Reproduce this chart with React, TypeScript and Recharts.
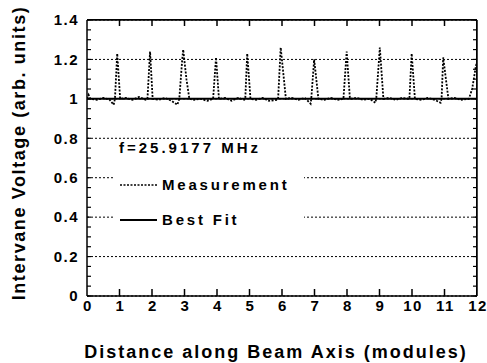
import React from "react";
import {
  LineChart,
  Line,
  XAxis,
  YAxis,
  CartesianGrid,
  Legend,
  Label,
} from "recharts";

// measurement: dotted trace, peaks near each module boundary
const measX = [
  0, 0.05, 0.1, 0.3, 0.5, 0.7, 0.82, 0.86, 0.93, 1.02, 1.2, 1.4, 1.6, 1.8, 1.86, 1.94, 2.02,
  2.2, 2.4, 2.6, 2.78, 2.84, 2.93, 2.96, 3.06, 3.15, 3.3, 3.5, 3.7, 3.88, 3.97, 4.06,
  4.25, 4.45, 4.65, 4.84, 4.87, 4.93, 5.03, 5.2, 5.4, 5.6, 5.85, 5.88, 5.96, 6.12,
  6.3, 6.5, 6.7, 6.88, 6.9, 6.99, 7.12, 7.3, 7.5, 7.7, 7.89, 7.99, 8.09,
  8.3, 8.5, 8.7, 8.87, 8.9, 9.01, 9.12, 9.3, 9.5, 9.7, 9.92, 9.99, 10.09,
  10.3, 10.5, 10.7, 10.88, 10.91, 10.96, 11.12, 11.3, 11.5, 11.75, 11.85, 11.97, 12,
];
const measY = [
  1.0, 1.02, 1.0, 0.995, 1.005, 0.995, 0.97, 1.0, 1.23, 1.0, 1.005, 0.995, 1.01, 0.995, 1.0, 1.24, 1.0,
  0.995, 1.005, 0.99, 0.97, 1.0, 1.2, 1.25, 1.1, 1.0, 0.995, 1.0, 0.99, 1.0, 1.21, 1.0,
  1.005, 0.99, 1.005, 0.995, 1.0, 1.23, 1.0, 0.995, 1.005, 0.99, 0.995, 1.0, 1.26, 1.0,
  1.005, 0.995, 1.005, 0.975, 1.0, 1.2, 1.0, 0.995, 1.005, 0.995, 1.0, 1.24, 1.0,
  1.005, 0.995, 1.0, 0.98, 1.0, 1.26, 1.0, 1.005, 0.995, 1.005, 1.0, 1.23, 1.0,
  0.995, 1.005, 0.995, 0.98, 1.0, 1.21, 1.0, 1.005, 0.995, 1.0, 1.05, 1.17, 1.18,
];

// best fit: flat line
const fitX = [0, 12];
const fitY = [1.0, 1.0];

const seriesNames = ["Measurement", "Best Fit"];
const xTicks = [0, 1, 2, 3, 4, 5, 6, 7, 8, 9, 10, 11, 12];
const yTicks = [0, 0.2, 0.4, 0.6, 0.8, 1, 1.2, 1.4];
const yMinorTicks = [
  0, 0.05, 0.1, 0.15, 0.2, 0.25, 0.3, 0.35, 0.4, 0.45, 0.5, 0.55, 0.6, 0.65, 0.7,
  0.75, 0.8, 0.85, 0.9, 0.95, 1, 1.05, 1.1, 1.15, 1.2, 1.25, 1.3, 1.35, 1.4,
];
const freqLabel = "f=25.9177 MHz";

const measData = measX.map((x, i) => ({ x, y: measY[i] }));
const fitData = fitX.map((x, i) => ({ x, y: fitY[i] }));

const FONT = "'Liberation Sans', Arial, sans-serif";
const CHART_W = 487;
const CHART_H = 363;
const MARGIN = { top: 20, right: 10, bottom: 0, left: 0 };
const Y_AXIS_W = 87;
const X_AXIS_H = 67;
const PLOT_TOP = MARGIN.top;
const PLOT_RIGHT = CHART_W - MARGIN.right;

// bottom tick: inward marks top and bottom, label, right frame at the last tick
const XTick = (props: any) => {
  const { x, y, payload } = props;
  const v = payload.value;
  const last = v === xTicks[xTicks.length - 1];
  const inner = v > xTicks[0] && !last;
  return (
    <g>
      {inner && <line x1={x} x2={x} y1={y} y2={y - 7} stroke="#000" strokeWidth={1.5} />}
      {inner && <line x1={x} x2={x} y1={PLOT_TOP} y2={PLOT_TOP + 6} stroke="#000" strokeWidth={1.5} />}
      {last && <line x1={x} x2={x} y1={y} y2={PLOT_TOP} stroke="#000" strokeWidth={1.5} />}
      <text x={x + 1} y={y + 14.5} textAnchor="middle" fontFamily={FONT} fontSize={15} fontWeight="bold"
        letterSpacing={1.5} fill="#000">
        {v}
      </text>
    </g>
  );
};

// left tick: inward marks every 0.05 on both sides, labels at 0.2 steps, top frame at the last tick
const YTick = (props: any) => {
  const { x, y, payload } = props;
  const v = payload.value;
  const major = yTicks.some((t) => Math.abs(t - v) < 1e-9);
  const last = v === yMinorTicks[yMinorTicks.length - 1];
  return (
    <g>
      <line x1={x} x2={x + 4} y1={y} y2={y} stroke="#000" strokeWidth={1.2} />
      <line x1={PLOT_RIGHT} x2={PLOT_RIGHT - 4} y1={y} y2={y} stroke="#000" strokeWidth={1.2} />
      {last && <line x1={x} x2={PLOT_RIGHT} y1={y} y2={y} stroke="#000" strokeWidth={1.5} />}
      {major && (
        <text x={x - 8} y={y + 5.3} textAnchor="end" fontFamily={FONT} fontSize={15} fontWeight="bold"
          letterSpacing={1.5} fill="#000">
          {v}
        </text>
      )}
    </g>
  );
};

const LegendBox = (props: any) => {
  const items = props.payload || [];
  return (
    <div style={{ position: "relative", width: 191, height: 88, background: "#fff", fontFamily: FONT }}>
      <div style={{ position: "absolute", left: 6, top: -1, fontSize: 15, fontWeight: "bold", letterSpacing: 3, lineHeight: "18px" }}>
        {freqLabel}
      </div>
      {items.map((it: any, i: number) => (
        <div key={i} style={{ position: "absolute", left: 7, top: 36 + i * 35, height: 18, display: "flex", alignItems: "center" }}>
          <svg width={37} height={18}>
            <line
              x1={0}
              x2={37}
              y1={9}
              y2={9}
              stroke="#000"
              strokeWidth={it.payload?.strokeDasharray ? 1.6 : 2}
              strokeDasharray={it.payload?.strokeDasharray}
            />
          </svg>
          <span style={{ marginLeft: 5, fontSize: 15, fontWeight: "bold", letterSpacing: 2.8, lineHeight: "18px" }}>
            {it.value}
          </span>
        </div>
      ))}
    </div>
  );
};

export default function App() {
  return (
    <div style={{ position: "absolute", left: 0, top: 0, width: CHART_W, height: CHART_H }}>
      <LineChart width={CHART_W} height={CHART_H} margin={MARGIN} style={{ fontFamily: FONT }}>
        <CartesianGrid vertical={false} yAxisId="g" stroke="#000" strokeDasharray="2 2" strokeWidth={1} />
        {/* hidden axis that only feeds the grid */}
        <YAxis yAxisId="g" hide type="number" domain={[0, 1.4]} ticks={yTicks} interval={0} allowDataOverflow />
        <XAxis dataKey="x" type="number" domain={[0, 12]} ticks={xTicks} interval={0} height={X_AXIS_H} tickLine={false}
          tickSize={0} tickMargin={0} tick={<XTick />} stroke="#000" strokeWidth={1.5} allowDataOverflow>
          <Label
            content={() => (
              <text x={276} y={358} textAnchor="middle" fontFamily={FONT} fontSize={18} fontWeight="bold" letterSpacing={2} fill="#000">
                Distance along Beam Axis (modules)
              </text>
            )}
          />
        </XAxis>
        <YAxis type="number" domain={[0, 1.4]} ticks={yMinorTicks} interval={0} width={Y_AXIS_W} tickLine={false} tickSize={0}
          tickMargin={0} tick={<YTick />} stroke="#000" strokeWidth={1.5} allowDataOverflow>
          <Label
            content={() => (
              <text x={25} y={153} transform="rotate(-90 25 153)" textAnchor="middle" fontFamily={FONT} fontSize={18}
                fontWeight="bold" letterSpacing={1.6} fill="#000">
                Intervane Voltage (arb. units)
              </text>
            )}
          />
        </YAxis>
        <Legend
          layout="horizontal"
          verticalAlign="middle"
          align="center"
          itemSorter={(item: any) => seriesNames.indexOf(item.value)}
          content={<LegendBox />}
          wrapperStyle={{ left: 113, top: 140, width: 191, height: 88 }}
        />
        <Line name={seriesNames[1]} data={fitData} dataKey="y" type="linear" stroke="#000"
          strokeWidth={2} dot={false} isAnimationActive={false} />
        <Line name={seriesNames[0]} data={measData} dataKey="y" type="linear" stroke="#000" strokeWidth={1.8}
          strokeDasharray="2 1.5" dot={false} isAnimationActive={false} />
      </LineChart>
      {/* plot frame: top and right edges */}
      <div
        style={{
          position: "absolute",
          left: MARGIN.left + Y_AXIS_W,
          top: PLOT_TOP - 1,
          width: PLOT_RIGHT - (MARGIN.left + Y_AXIS_W),
          height: CHART_H - X_AXIS_H - PLOT_TOP + 1,
          borderTop: "1.5px solid #000",
          borderRight: "1.5px solid #000",
          boxSizing: "border-box",
          pointerEvents: "none",
        }}
      />
    </div>
  );
}
